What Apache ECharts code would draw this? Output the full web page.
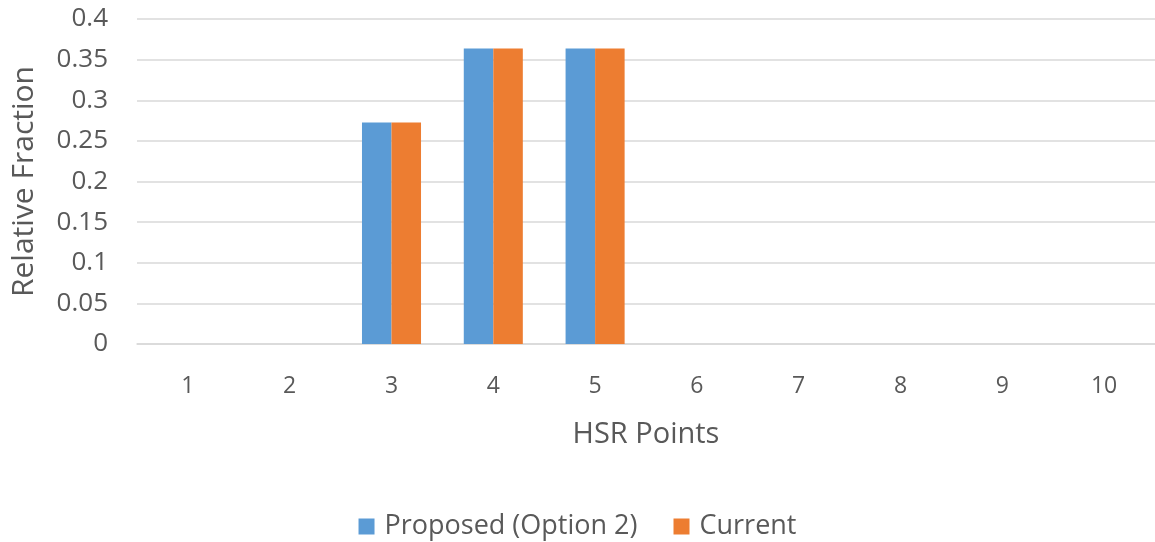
<!DOCTYPE html>
<html>
<head>
<meta charset="utf-8">
<script src="https://cdn.jsdelivr.net/npm/echarts@6/dist/echarts.min.js"></script>
<style>
  html, body { margin: 0; padding: 0; background: #fff; }
  #hsr-chart { width: 1155px; height: 542px; }
</style>
</head>
<body>
<div id="hsr-chart"></div>
<script>
// 横轴类别
const categories = ['1', '2', '3', '4', '5', '6', '7', '8', '9', '10']
// 两个系列的数据
const proposedValues = [0, 0, 0.2727, 0.3636, 0.3636, 0, 0, 0, 0, 0]
const currentValues = [0, 0, 0.2727, 0.3636, 0.3636, 0, 0, 0, 0, 0]
const seriesNames = ['Proposed (Option 2)', 'Current']

const fontFamily = '"Open Sans", "Noto Sans", sans-serif'
const textColor = '#595959'

const myChart = echarts.init(document.getElementById('hsr-chart'))
const option = {
  animation: false,
  color: ['#5B9BD5', '#ED7D31'],
  grid: {
    left: 137,
    right: 0,
    top: 19,
    bottom: 198
  },
  legend: {
    top: 508,
    left: 'center',
    itemWidth: 16,
    itemHeight: 16,
    itemGap: 36,
    icon: 'rect',
    data: seriesNames,
    textStyle: {
      color: textColor,
      fontFamily: fontFamily,
      fontSize: 27,
      padding: [0, 0, 0, 5]
    }
  },
  xAxis: {
    type: 'category',
    data: categories,
    name: 'HSR Points',
    nameLocation: 'middle',
    nameGap: 76,
    nameTextStyle: {
      color: textColor,
      fontFamily: fontFamily,
      fontSize: 29
    },
    axisLabel: {
      color: textColor,
      fontFamily: fontFamily,
      fontSize: 23,
      margin: 31
    },
    axisTick: { show: false },
    axisLine: {
      lineStyle: { color: '#D9D9D9', width: 1.5 }
    }
  },
  yAxis: {
    type: 'value',
    min: 0,
    max: 0.4,
    interval: 0.05,
    name: 'Relative Fraction',
    nameLocation: 'middle',
    nameGap: 98,
    nameTextStyle: {
      color: textColor,
      fontFamily: fontFamily,
      fontSize: 30
    },
    axisLabel: {
      color: textColor,
      fontFamily: fontFamily,
      fontSize: 26,
      margin: 29,
      formatter: (v) => String(parseFloat(v.toFixed(2)))
    },
    axisLine: { show: false },
    axisTick: { show: false },
    splitLine: {
      lineStyle: { color: '#D9D9D9', width: 1.5 }
    }
  },
  series: [
    {
      name: seriesNames[0],
      type: 'bar',
      data: proposedValues,
      barGap: '0%',
      barCategoryGap: '42%'
    },
    {
      name: seriesNames[1],
      type: 'bar',
      data: currentValues,
      barGap: '0%',
      barCategoryGap: '42%'
    }
  ]
}
myChart.setOption(option)
</script>
</body>
</html>
